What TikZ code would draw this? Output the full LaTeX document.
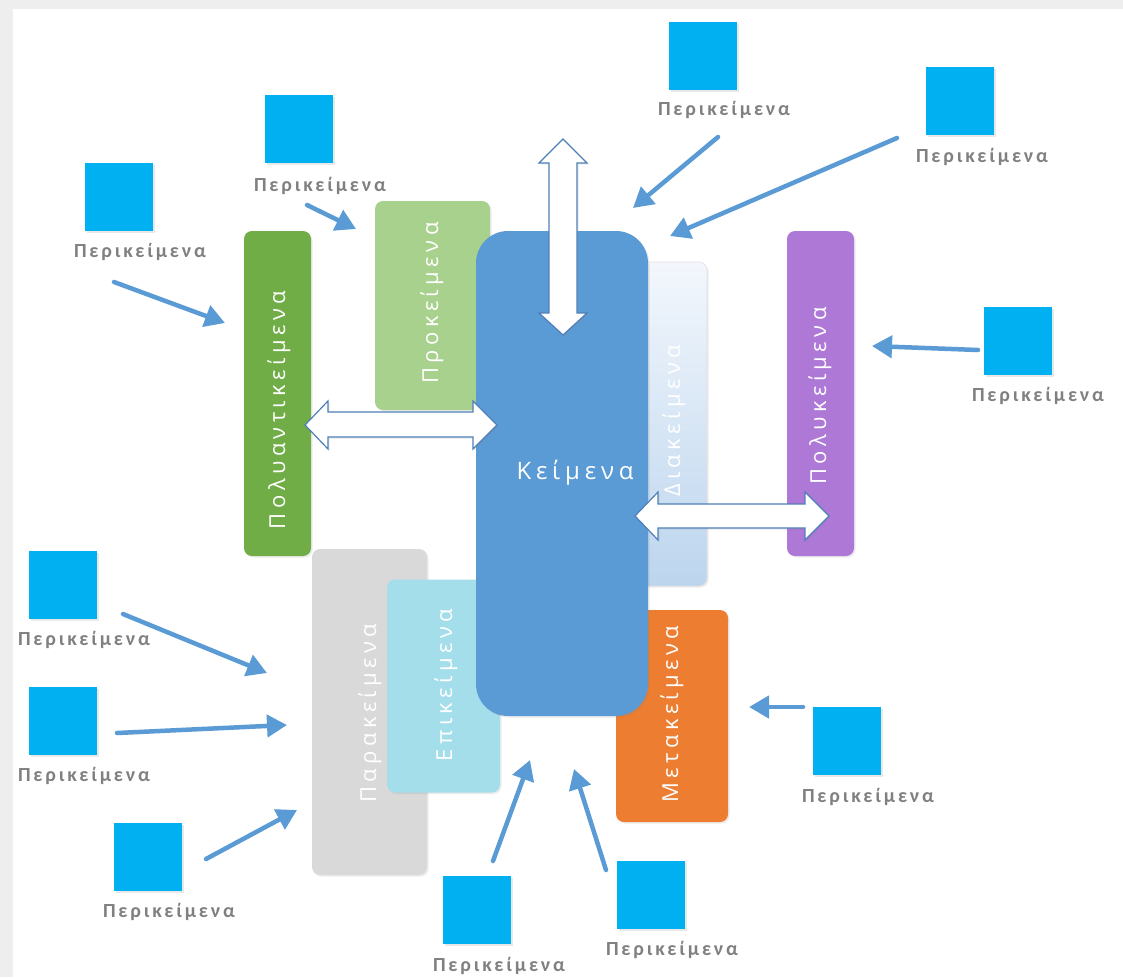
\documentclass[tikz,border=0pt]{standalone}
\usepackage{fontspec}
\setmainfont{Open Sans}
\newfontfamily\lblfont[LetterSpace=14]{Carlito}
\newfontfamily\boxfont[LetterSpace=20]{Open Sans}
\usetikzlibrary{arrows.meta,shadows}
\definecolor{sqblue}{HTML}{00B0F0}
\definecolor{lblgray}{HTML}{808080}
\definecolor{arrblue}{HTML}{5B9BD5}
\definecolor{barrow}{HTML}{4F7FB8}
\definecolor{cgreen}{HTML}{70AD47}
\definecolor{clgreen}{HTML}{A9D18E}
\definecolor{cmain}{HTML}{5B9BD5}
\definecolor{cpurple}{HTML}{AD78D6}
\definecolor{cgray}{HTML}{D9D9D9}
\definecolor{ccyan}{HTML}{A5DEEB}
\definecolor{corange}{HTML}{ED7D31}
\definecolor{cdiatop}{HTML}{F3F7FC}
\definecolor{cdiabot}{HTML}{BCD5EE}
\definecolor{bggray}{HTML}{EEEEEE}
\begin{document}
\begin{tikzpicture}[x=1pt,y=-1pt,
  sq/.style={fill=sqblue, minimum width=68pt, minimum height=68pt, inner sep=0pt,
    drop shadow={opacity=0.18, shadow xshift=1.5pt, shadow yshift=-1.5pt}},
  lbl/.style={text=lblgray, font=\lblfont\bfseries\fontsize{20}{24}\selectfont, inner sep=0pt},
  box/.style={rounded corners=8pt, inner sep=0pt,
    drop shadow={opacity=0.15, shadow xshift=1.5pt, shadow yshift=-1.5pt}},
  boxtxt/.style={text=white, font=\boxfont\fontsize{22}{26}\selectfont, inner sep=0pt, rotate=90},
  conn/.style={draw=arrblue, line width=4.5pt, line cap=round, -{Triangle[length=20pt,width=22pt]}},
  blockarrow/.style={fill=white, draw=barrow, line width=1.2pt, line join=miter,
    drop shadow={opacity=0.15, shadow xshift=1.5pt, shadow yshift=-1.5pt}}
]
\useasboundingbox (0,0) rectangle (1123,977);
\fill[bggray] (0,0) rectangle (1123,977);
\fill[white] (13,9) rectangle (1123,977);

% boxes
\node[box, fill=cgreen, minimum width=67pt, minimum height=325pt] (polyanti) at (277.5,393.5) {};
\node[boxtxt] (tpolyanti) at (279,410) {Πολυαντικείμενα};
\node[box, fill=clgreen, minimum width=115pt, minimum height=209pt] (prok) at (432.5,305.5) {};
\node[boxtxt] (tprok) at (432,303) {Προκείμενα};
\node[box, fill=cgray, minimum width=115pt, minimum height=326pt] (parak) at (369.5,712) {};
\node[boxtxt] (tparak) at (370,713) {Παρακείμενα};
\node[box, fill=ccyan, minimum width=113pt, minimum height=213pt] (epik) at (443.5,686) {};
\node[boxtxt] (tepik) at (446,685) {Επικείμενα};
\node[box, fill=corange, minimum width=112pt, minimum height=212pt] (meta) at (672,716) {};
\node[boxtxt] (tmeta) at (672,714) {Μετακείμενα};
\node[box, draw=black!12, line width=0.6pt, top color=cdiatop, bottom color=cdiabot, minimum width=67pt, minimum height=324pt] (diak) at (673.5,424) {};
\node[boxtxt] (tdiak) at (674,421) {Διακείμενα};
\node[box, fill=cpurple, minimum width=67pt, minimum height=325pt] (polyk) at (820.5,393.5) {};
\node[boxtxt] (tpolyk) at (820,396) {Πολυκείμενα};
\node[box, rounded corners=32pt, fill=cmain, minimum width=172pt, minimum height=485pt] (keim) at (562,473.5) {};
\node[text=white, font=\boxfont\fontsize{24}{28}\selectfont, inner sep=0pt] (tkeim) at (575,473) {Κείμενα};

% block double arrows
\path[blockarrow] (563,139) -- (587,163) -- (577,163) -- (577,313) -- (587,313) -- (563,335)
  -- (539,313) -- (549,313) -- (549,163) -- (539,163) -- cycle;
\path[blockarrow] (305,425) -- (328,401) -- (328,412) -- (473,412) -- (473,401) -- (497,425)
  -- (473,449) -- (473,437) -- (328,437) -- (328,449) -- cycle;
\path[blockarrow] (635,516) -- (658,492) -- (658,504) -- (805,504) -- (805,492) -- (829,516)
  -- (805,540) -- (805,528) -- (658,528) -- (658,540) -- cycle;

% context squares and labels
\node[sq] (s1) at (119,197) {};   \node[lbl] (l1) at (140,252) {Περικείμενα};
\node[sq] (s2) at (299,129) {};   \node[lbl] (l2) at (320,186) {Περικείμενα};
\node[sq] (s3) at (703,56) {};    \node[lbl] (l3) at (724,110) {Περικείμενα};
\node[sq] (s4) at (960,101) {};   \node[lbl] (l4) at (982,157) {Περικείμενα};
\node[sq] (s5) at (1018,341) {};  \node[lbl] (l5) at (1038,396) {Περικείμενα};
\node[sq] (s6) at (63,585) {};    \node[lbl] (l6) at (84,640) {Περικείμενα};
\node[sq] (s7) at (63,721) {};    \node[lbl] (l7) at (84,776) {Περικείμενα};
\node[sq] (s8) at (148,857) {};   \node[lbl] (l8) at (169,912) {Περικείμενα};
\node[sq] (s9) at (477,910) {};   \node[lbl] (l9) at (499,966) {Περικείμενα};
\node[sq] (s10) at (651,895) {};  \node[lbl] (l10) at (672,950) {Περικείμενα};
\node[sq] (s11) at (847,741) {};  \node[lbl] (l11) at (868,797) {Περικείμενα};

% thin arrows
\coordinate (a1s) at (114,282);  \coordinate (a1e) at (225,323);
\coordinate (a2s) at (307,205);  \coordinate (a2e) at (356,229);
\coordinate (a3s) at (718,137);  \coordinate (a3e) at (633,208);
\coordinate (a4s) at (897,138);  \coordinate (a4e) at (670,236);
\coordinate (a5s) at (978,350);  \coordinate (a5e) at (872,346);
\coordinate (a6s) at (123,614);  \coordinate (a6e) at (267,673);
\coordinate (a7s) at (117,733);  \coordinate (a7e) at (287,725);
\coordinate (a8s) at (206,859);  \coordinate (a8e) at (297,810);
\coordinate (a9s) at (493,861);  \coordinate (a9e) at (530,760);
\coordinate (a10s) at (606,870); \coordinate (a10e) at (574,769);
\coordinate (a11s) at (803,707); \coordinate (a11e) at (749,707);
\foreach \i in {1,...,11} {\draw[conn] (a\i s) -- (a\i e);}
\end{tikzpicture}
\end{document}
